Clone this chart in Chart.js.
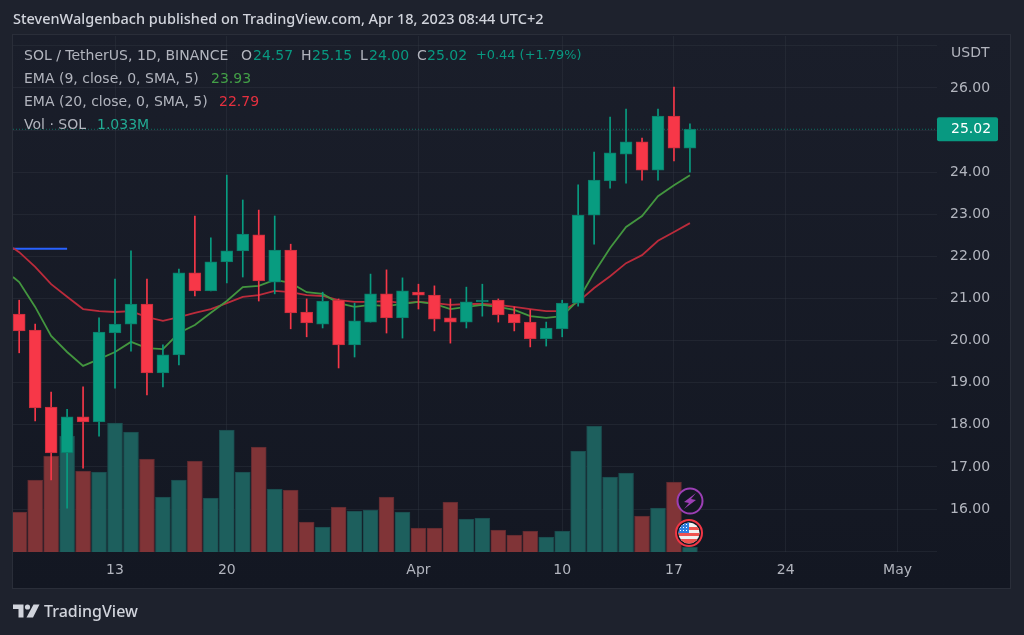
<!DOCTYPE html>
<html>
<head>
<meta charset="utf-8">
<title>SOL / TetherUS</title>
<script src="https://cdn.jsdelivr.net/npm/chart.js@4"></script>
<style>
    html, body { margin: 0; padding: 0; background: #1e222d; }
    #wrap { width: 1024px; height: 635px; }
</style>
</head>
<body>
<div id="wrap"><canvas id="myChart"></canvas></div>
<script>
// daily candles, Mar 7 to Apr 18
const opens = [20.63,20.25,18.42,17.33,18.19,18.07,20.18,20.39,20.87,19.23,19.66,21.61,21.18,21.87,22.13,22.51,21.39,22.15,20.68,20.39,20.96,19.90,20.44,21.11,20.54,21.15,21.08,20.54,20.44,20.92,20.96,20.63,20.44,20.04,20.28,20.89,22.98,23.79,24.43,24.72,24.05,25.33,24.57];
const closes = [20.23,18.40,17.33,18.19,18.07,20.20,20.39,20.87,19.23,19.66,21.61,21.18,21.87,22.13,22.53,21.42,22.15,20.66,20.42,20.94,19.90,20.47,21.11,20.54,21.18,21.08,20.51,20.44,20.92,20.96,20.61,20.42,20.04,20.30,20.89,22.98,23.81,24.46,24.72,24.05,25.33,24.57,25.02];
const highs = [20.96,20.39,18.78,18.37,18.90,20.54,21.46,22.13,21.46,19.90,21.70,22.96,22.44,23.93,23.34,23.10,22.96,22.29,20.99,21.15,20.99,20.89,21.58,21.68,21.49,21.34,21.30,20.99,21.27,21.34,20.99,20.80,20.73,20.44,20.96,23.70,24.48,25.31,25.50,24.81,25.50,26.02,25.15];
const lows = [19.71,18.09,16.69,16.02,16.97,17.73,18.87,19.75,18.71,18.90,19.42,21.06,21.18,21.37,21.51,20.94,21.11,20.28,20.09,20.30,19.35,19.61,20.44,20.18,20.06,20.75,20.23,19.94,20.30,20.58,20.44,20.23,19.85,19.87,20.09,20.82,22.29,23.62,23.74,23.81,23.81,24.27,24.00];
const volumes = [9.09,16.36,21.82,26.36,18.41,18.18,29.32,27.27,21.14,12.50,16.36,20.68,12.27,27.73,18.18,23.86,14.32,14.09,6.82,5.68,10.23,9.32,9.55,12.50,9.09,5.45,5.45,11.36,7.50,7.73,5.00,3.86,4.77,3.41,4.77,22.95,28.64,17.05,17.95,8.18,10.00,15.91,1.033];
const ema9 = [21.39,20.80,20.11,19.73,19.40,19.56,19.73,19.97,19.82,19.80,20.18,20.37,20.66,20.94,21.27,21.30,21.44,21.37,21.15,21.11,20.89,20.80,20.85,20.82,20.87,20.92,20.87,20.75,20.80,20.85,20.80,20.73,20.58,20.54,20.58,20.96,21.61,22.20,22.70,22.96,23.43,23.69,23.93];
const ema20 = [22.10,21.75,21.34,21.04,20.75,20.70,20.68,20.70,20.56,20.47,20.56,20.66,20.75,20.89,21.04,21.08,21.18,21.15,21.08,21.06,20.96,20.92,20.92,20.94,20.89,20.92,20.89,20.85,20.87,20.87,20.85,20.80,20.75,20.70,20.70,20.92,21.25,21.53,21.84,22.03,22.37,22.58,22.79];
const ema9Start = 21.51;
const ema20Start = 22.20;
const blueLine = 22.18;
const lastPrice = 25.02;

const timeTicks = [6, 13, 25, 34, 41, 48, 55];
const timeLabels = ['13', '20', 'Apr', '10', '17', '24', 'May'];
const priceTicks = [15, 16, 17, 18, 19, 20, 21, 22, 23, 24, 25, 26, 27];

const xMin = -0.388;
const xMax = 57.47;
const days = opens.map((o, i) => i);

const GREEN = '#089981';
const BODY_GREEN = '#089c80';
const RED = '#f73748';
const VOL_GREEN = '#1d5f5d';
const VOL_RED = '#803437';
const GRID = 'rgba(54,58,69,0.36)';
const TEXT = '#b2b5be';
const TITLE_FONT = '"Noto Sans", sans-serif';
const FONT = '"DejaVu Sans", sans-serif';

function candleColor(i) {
    return closes[i] >= opens[i] ? BODY_GREEN : RED;
}

function text(ctx, str, x, y, color, font) {
    ctx.fillStyle = color;
    ctx.font = font || ('14px ' + FONT);
    ctx.fillText(str, x, y);
}

const backdrop = {
    id: 'backdrop',
    beforeDraw(chart) {
        const ctx = chart.ctx;
        ctx.save();
        ctx.fillStyle = '#1e222d';
        ctx.fillRect(0, 0, 1024, 635);
        const g = ctx.createLinearGradient(0, 35, 0, 588);
        g.addColorStop(0, '#1a1e2a');
        g.addColorStop(1, '#131722');
        ctx.fillStyle = g;
        ctx.fillRect(13, 35, 997, 553);
        ctx.strokeStyle = '#2a2e39';
        ctx.lineWidth = 1;
        ctx.strokeRect(12.5, 34.5, 998, 554);
        ctx.restore();
    }
};

function drawLogo(ctx) {
    ctx.fillStyle = '#d1d4dc';
    ctx.beginPath();
    ctx.moveTo(13, 604.5); ctx.lineTo(23.5, 604.5); ctx.lineTo(23.5, 617.5);
    ctx.lineTo(18.5, 617.5); ctx.lineTo(18.5, 609); ctx.lineTo(13, 609);
    ctx.closePath();
    ctx.fill();
    ctx.beginPath();
    ctx.arc(27.5, 607, 2.6, 0, Math.PI * 2);
    ctx.fill();
    ctx.beginPath();
    ctx.moveTo(33.5, 604.5); ctx.lineTo(39.5, 604.5); ctx.lineTo(33, 617.5); ctx.lineTo(26.5, 617.5);
    ctx.closePath();
    ctx.fill();
}

function drawIcons(ctx) {
    // lightning badge
    ctx.beginPath();
    ctx.arc(690, 501, 12.5, 0, Math.PI * 2);
    ctx.fillStyle = '#131722';
    ctx.fill();
    ctx.lineWidth = 2;
    ctx.strokeStyle = '#9c3fb5';
    ctx.stroke();
    ctx.fillStyle = '#9c3fb5';
    ctx.beginPath();
    ctx.moveTo(696, 493); ctx.lineTo(684, 502); ctx.lineTo(689, 503);
    ctx.lineTo(684, 509); ctx.lineTo(696, 500); ctx.lineTo(691, 499);
    ctx.closePath();
    ctx.fill();

    // flag badge
    ctx.beginPath();
    ctx.arc(689, 533, 13, 0, Math.PI * 2);
    ctx.fillStyle = '#131722';
    ctx.fill();
    ctx.lineWidth = 2;
    ctx.strokeStyle = '#f23645';
    ctx.stroke();
    ctx.save();
    ctx.beginPath();
    ctx.arc(689, 533, 10.5, 0, Math.PI * 2);
    ctx.clip();
    ctx.fillStyle = '#f0f0f0';
    ctx.fillRect(678, 522, 22, 22);
    ctx.fillStyle = '#ef5350';
    ctx.fillRect(678, 527, 22, 3);
    ctx.fillRect(678, 533, 22, 3);
    ctx.fillRect(678, 539, 22, 5);
    ctx.fillStyle = '#2f7fe0';
    ctx.fillRect(678, 522, 11, 11);
    ctx.fillStyle = '#ffffff';
    for (let row = 0; row < 3; row++) {
        for (let col = 0; col < 3; col++) {
            ctx.fillRect(680 + col * 3, 524 + row * 3, 1, 1);
        }
    }
    ctx.restore();
}

const overlay = {
    id: 'overlay',
    afterDraw(chart) {
        const ctx = chart.ctx;
        const y = chart.scales.y.getPixelForValue(lastPrice);
        ctx.save();
        ctx.textBaseline = 'middle';
        ctx.textAlign = 'left';

        drawIcons(ctx);

        // published line
        text(ctx, 'StevenWalgenbach published on TradingView.com, Apr 18, 2023 08:44 UTC+2', 13, 20, '#d1d4dc', '500 14.5px ' + TITLE_FONT);

        // chart legend
        text(ctx, 'SOL / TetherUS, 1D, BINANCE', 24, 56, TEXT);
        text(ctx, 'O', 241, 56, TEXT);
        text(ctx, '24.57', 253, 56, GREEN);
        text(ctx, 'H', 301, 56, TEXT);
        text(ctx, '25.15', 312, 56, GREEN);
        text(ctx, 'L', 360, 56, TEXT);
        text(ctx, '24.00', 369, 56, GREEN);
        text(ctx, 'C', 417, 56, TEXT);
        text(ctx, '25.02', 427, 56, GREEN);
        text(ctx, '+0.44 (+1.79%)', 476, 56, GREEN, '12.9px ' + FONT);
        text(ctx, 'EMA (9, close, 0, SMA, 5)', 24, 79, TEXT);
        text(ctx, '23.93', 211, 79, '#43a047');
        text(ctx, 'EMA (20, close, 0, SMA, 5)', 24, 102, TEXT);
        text(ctx, '22.79', 219, 102, '#e5303f');
        text(ctx, 'Vol · SOL', 24, 125, TEXT);
        text(ctx, '1.033M', 97, 125, '#22ab94');

        text(ctx, 'USDT', 951, 53, TEXT);

        // last price tag
        ctx.fillStyle = GREEN;
        ctx.beginPath();
        ctx.roundRect(937, y - 12, 61, 24, 2);
        ctx.fill();
        text(ctx, '25.02', 951, y, '#ffffff');

        drawLogo(ctx);
        text(ctx, 'TradingView', 44, 612, '#d1d4dc', '500 16px ' + TITLE_FONT);
        ctx.restore();
    }
};

const data = {
    datasets: [
        {
            type: 'bar',
            data: days.map(i => ({ x: i, y: [lows[i], highs[i]] })),
            backgroundColor: days.map(candleColor),
            barThickness: 1,
            grouped: false,
            order: 2
        },
        {
            type: 'bar',
            data: days.map(i => ({ x: i, y: [opens[i], closes[i]] })),
            backgroundColor: days.map(candleColor),
            borderColor: days.map(i => closes[i] >= opens[i] ? '#0b7a68' : '#c52f3d'),
            borderWidth: 1,
            borderSkipped: false,
            barThickness: 12,
            grouped: false,
            order: 1
        },
        {
            type: 'line',
            data: [{ x: xMin, y: ema9Start }].concat(days.map(i => ({ x: i, y: ema9[i] }))),
            borderColor: '#43963f',
            borderWidth: 1.8,
            pointRadius: 0,
            tension: 0,
            order: 3
        },
        {
            type: 'line',
            data: [{ x: xMin, y: ema20Start }].concat(days.map(i => ({ x: i, y: ema20[i] }))),
            borderColor: '#bb2b3b',
            borderWidth: 1.8,
            pointRadius: 0,
            tension: 0,
            order: 3
        },
        {
            type: 'line',
            data: [{ x: xMin, y: blueLine }, { x: 3, y: blueLine }],
            borderColor: '#2962ff',
            borderWidth: 2,
            pointRadius: 0,
            order: 4
        },
        {
            type: 'line',
            data: [{ x: xMin, y: lastPrice }, { x: xMax, y: lastPrice }],
            borderColor: '#0d6f62',
            borderWidth: 1,
            borderDash: [1, 2],
            pointRadius: 0,
            order: 5
        },
        {
            type: 'bar',
            yAxisID: 'vol',
            data: days.map(i => ({ x: i, y: volumes[i] })),
            backgroundColor: days.map(i => closes[i] >= opens[i] ? VOL_GREEN : VOL_RED),
            borderColor: days.map(i => closes[i] >= opens[i] ? '#1a4a4d' : '#5e2a30'),
            borderWidth: 1,
            barThickness: 15,
            grouped: false,
            order: 6
        }
    ]
};

const config = {
    data: data,
    plugins: [backdrop, overlay],
    options: {
        responsive: false,
        animation: false,
        layout: { padding: { left: 13, top: 36, right: 14, bottom: 47 } },
        plugins: { legend: { display: false }, tooltip: { enabled: false } },
        scales: {
            x: {
                type: 'linear',
                offset: false,
                min: xMin,
                max: xMax,
                afterBuildTicks(scale) { scale.ticks = timeTicks.map(v => ({ value: v })); },
                afterFit(scale) { scale.height = 36; },
                grid: { color: GRID, drawTicks: false, offset: false },
                border: { display: false },
                ticks: {
                    autoSkip: false,
                    maxRotation: 0,
                    padding: 10,
                    color: TEXT,
                    font: { family: FONT, size: 14 },
                    callback: value => timeLabels[timeTicks.indexOf(value)]
                }
            },
            y: {
                position: 'right',
                min: 14.979,
                max: 27.235,
                afterBuildTicks(scale) { scale.ticks = priceTicks.map(v => ({ value: v })); },
                afterFit(scale) { scale.width = 73; },
                grid: { color: GRID, drawTicks: false },
                border: { display: false },
                ticks: {
                    autoSkip: false,
                    padding: 13,
                    crossAlign: 'near',
                    color: TEXT,
                    font: { family: FONT, size: 14 },
                    callback: value => (value < 16 || value > 26) ? '' : value.toFixed(2)
                }
            },
            vol: {
                display: false,
                min: 0,
                max: 117.27
            }
        }
    }
};

const canvas = document.getElementById('myChart');
canvas.width = 1024;
canvas.height = 635;
new Chart(canvas, config);
</script>
</body>
</html>
